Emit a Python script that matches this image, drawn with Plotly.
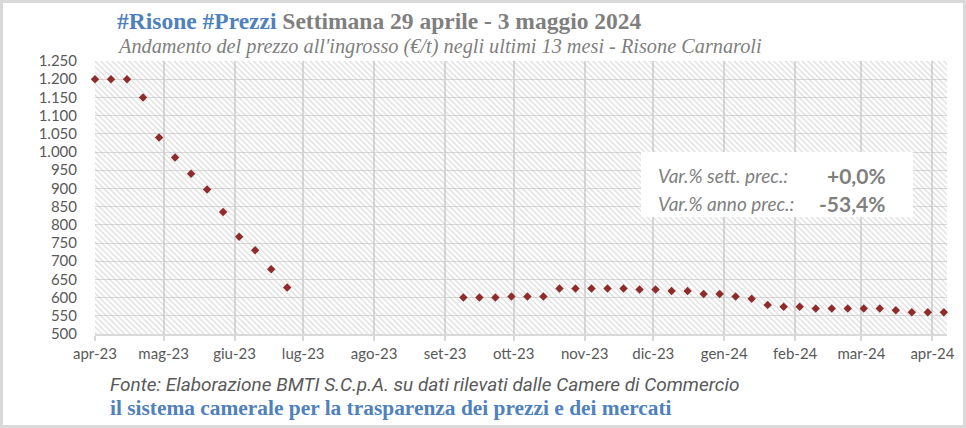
import plotly.graph_objects as go
import pandas as pd

# ---------------- data ----------------
first_week = "2023-04-01"
n_weeks = 54
prices = [1200, 1200, 1200, 1150, 1040, 985, 940, 897, 835, 767, 730, 678, 628,
          None, None, None, None, None, None, None, None, None, None,
          600, 600, 600, 603, 603, 603,
          625, 625, 625, 625, 625, 622, 622, 618, 618, 610, 610, 603, 597,
          580, 575, 575, 570, 570, 570, 570, 570, 565, 560, 560, 560]
week_dates = pd.date_range(first_week, periods=n_weeks, freq="7D")

tick_dates = pd.date_range("2023-04-01", periods=13, freq="MS")
tick_labels = ["apr-23", "mag-23", "giu-23", "lug-23", "ago-23", "set-23", "ott-23",
               "nov-23", "dic-23", "gen-24", "feb-24", "mar-24", "apr-24"]

x_range = ["2023-04-01", "2024-04-07 09:00"]
y_range = [500, 1250]

title_blue = "#Risone #Prezzi"
title_rest = "Settimana 29 aprile - 3 maggio 2024"
subtitle = "Andamento del prezzo all'ingrosso (€/t) negli ultimi 13 mesi - Risone Carnaroli"
var_labels = ["Var.% sett. prec.:", "Var.% anno prec.:"]
var_values = ["+0,0%", "-53,4%"]
source = "Fonte: Elaborazione BMTI S.C.p.A. su dati rilevati dalle Camere di Commercio"
slogan = "il sistema camerale per la trasparenza dei prezzi e dei mercati"

# ---------------- layout constants ----------------
W, H = 966, 428
ML, MR, MT, MB = 95, 19, 61, 94
PW, PH = W - ML - MR, H - MT - MB


def px(xp):
    return (xp - ML) / PW


def py(yp):
    return (H - MB - yp) / PH


GRAY_TXT = "#595959"
GRID = "#D9D9D9"
BLUE = "#4F81BD"
TITLE_GRAY = "#7F7F7F"

fig = go.Figure()

# hatched plot background
fig.add_trace(go.Scatter(
    x=[x_range[0], x_range[1], x_range[1], x_range[0], x_range[0]],
    y=[y_range[0], y_range[0], y_range[1], y_range[1], y_range[0]],
    mode="lines", line=dict(width=0, color="rgba(0,0,0,0)"),
    fill="toself", fillcolor="rgba(0,0,0,0)",
    fillpattern=dict(shape="\\", fgcolor="#BDBDBD", bgcolor="rgba(0,0,0,0)",
                     size=4, solidity=0.35),
    hoverinfo="skip", showlegend=False,
))

fig.add_trace(go.Scatter(
    x=week_dates, y=prices, mode="markers",
    marker=dict(symbol="diamond", size=6.5, color="#8E2C2C"),
    cliponaxis=False, showlegend=False,
))

fig.update_layout(
    width=W, height=H,
    margin=dict(l=ML, r=MR, t=MT, b=MB),
    paper_bgcolor="white", plot_bgcolor="white",
    separators=",.",
    font=dict(family="Lato, sans-serif", size=15, color=GRAY_TXT),
    showlegend=False,
)

fig.update_xaxes(
    type="date", range=x_range,
    tickvals=tick_dates, ticktext=tick_labels,
    showgrid=True, gridcolor=GRID, gridwidth=1.5,
    showline=True, linecolor=GRID, linewidth=1.5,
    ticks="outside", ticklen=5, tickcolor=GRID, tickwidth=1.5,
    tickfont=dict(family="Lato, sans-serif", size=15, color=GRAY_TXT),
    zeroline=False,
)
fig.update_yaxes(
    range=y_range, tick0=500, dtick=50, tickformat=",d",
    showgrid=True, gridcolor=GRID, gridwidth=1,
    showline=False, zeroline=False,
    ticks="outside", ticklen=14, tickcolor="rgba(0,0,0,0)",
    tickfont=dict(family="Lato, sans-serif", size=15, color=GRAY_TXT),
)

# white box with variations
fig.add_shape(type="rect", xref="paper", yref="paper",
              x0=px(641), x1=px(913), y0=py(217), y1=py(152),
              fillcolor="white", line=dict(width=0), layer="above")

for i, (lab, val) in enumerate(zip(var_labels, var_values)):
    yc = py(175 + i * 28.5)
    fig.add_annotation(xref="paper", yref="paper", x=px(656), y=yc,
                       xanchor="left", yanchor="middle", showarrow=False,
                       text=f"<i>{lab}</i>",
                       font=dict(family="Lato, sans-serif", size=19, color="#7F7F7F"))
    fig.add_annotation(xref="paper", yref="paper", x=px(888), y=yc,
                       xanchor="right", yanchor="middle", showarrow=False,
                       text=f"<b>{val}</b>",
                       font=dict(family="Lato, sans-serif", size=21, color="#7F7F7F"))

# titles
fig.add_annotation(xref="paper", yref="paper", x=px(115), y=py(21),
                   xanchor="left", yanchor="middle", showarrow=False,
                   text=f"<b><span style='color:{BLUE}'>{title_blue}</span> {title_rest}</b>",
                   font=dict(family="Liberation Serif, serif", size=23.5, color=TITLE_GRAY))
fig.add_annotation(xref="paper", yref="paper", x=px(115), y=py(47),
                   xanchor="left", yanchor="middle", showarrow=False,
                   text=f"<i>{subtitle}</i>",
                   font=dict(family="Liberation Serif, serif", size=20.3, color=TITLE_GRAY))

# footer
fig.add_annotation(xref="paper", yref="paper", x=px(108), y=py(384),
                   xanchor="left", yanchor="middle", showarrow=False,
                   text=f"<i>{source}</i>",
                   font=dict(family="Liberation Sans Narrow, Roboto, sans-serif", size=19, color=GRAY_TXT))
fig.add_annotation(xref="paper", yref="paper", x=px(108), y=py(408),
                   xanchor="left", yanchor="middle", showarrow=False,
                   text=f"<b>{slogan}</b>",
                   font=dict(family="Liberation Serif, serif", size=21.4, color=BLUE))

# outer frame
fig.add_shape(type="rect", xref="paper", yref="paper",
              x0=px(1.5), x1=px(W - 1.5), y0=py(H - 1.5), y1=py(1.5),
              line=dict(color="#D9D9D9", width=3), fillcolor="rgba(0,0,0,0)",
              layer="above")

fig.write_html(
    "out.html",
    config={"displayModeBar": False},
    post_script="document.body.style.margin='0';document.body.style.overflow='hidden';",
)
